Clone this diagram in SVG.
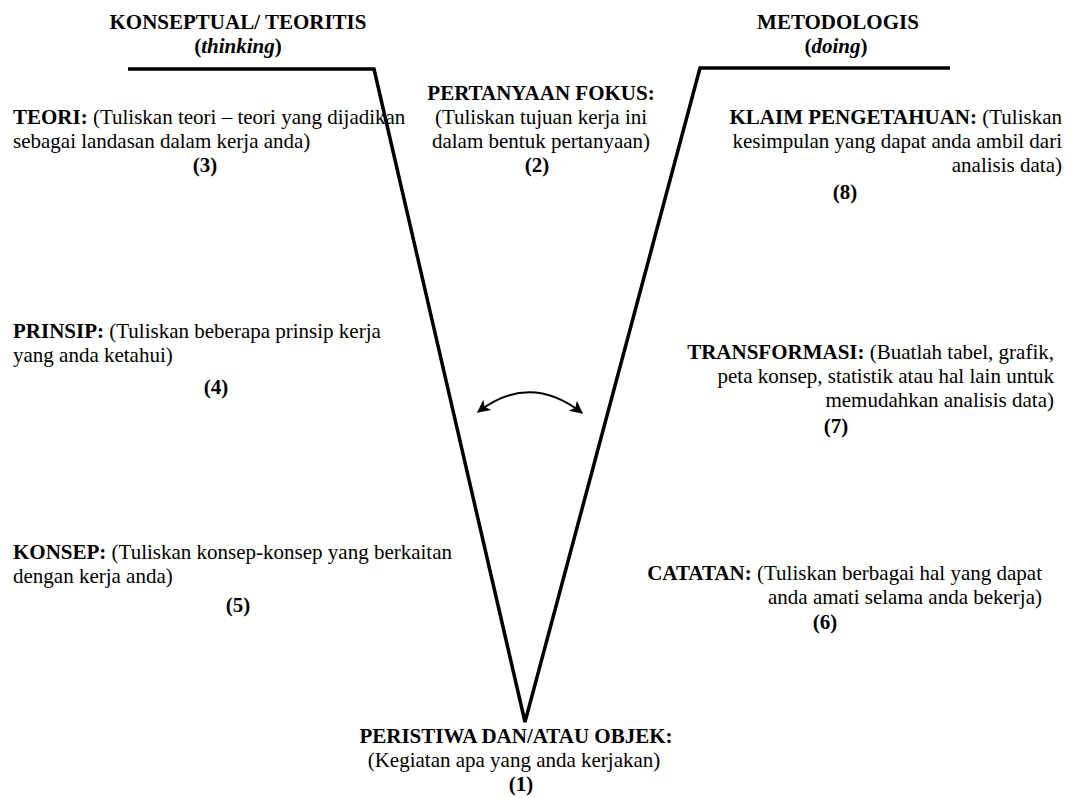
<svg xmlns="http://www.w3.org/2000/svg" width="1075" height="798" viewBox="0 0 1075 798">
<defs>
<style>
text{font-family:"Liberation Serif","Times New Roman",serif;font-size:21px;fill:#000}
.b{font-weight:bold}
.i{font-style:italic}
.v{fill:none;stroke:#000;stroke-width:3.5;stroke-linejoin:miter}
.arc{fill:none;stroke:#000;stroke-width:2}
</style>
<marker id="ah" viewBox="0 0 10 10" refX="9" refY="5" markerWidth="7.5" markerHeight="6.5" orient="auto-start-reverse" markerUnits="strokeWidth">
<path d="M0,0 L10,5 L0,10 L2.5,5 Z" fill="#000"/>
</marker>
</defs>
<rect width="1075" height="798" fill="#fff"/>
<g id="connectors">
<path class="v" d="M128,69 L374,69 L525,722 L700,68 L950,68"/>
<path class="arc" d="M478,412 Q530,372 582,413" marker-start="url(#ah)" marker-end="url(#ah)"/>
</g>
<g id="head-left">
<text x="238" y="29" text-anchor="middle" class="b">KONSEPTUAL/ TEORITIS</text>
<text x="238" y="53" text-anchor="middle" class="b">(<tspan class="i">thinking</tspan>)</text>
</g>
<g id="head-right">
<text x="838" y="29" text-anchor="middle" class="b">METODOLOGIS</text>
<text x="836" y="53" text-anchor="middle" class="b">(<tspan class="i">doing</tspan>)</text>
</g>
<g id="n2">
<text x="541" y="100" text-anchor="middle" class="b">PERTANYAAN FOKUS:</text>
<text x="541" y="124" text-anchor="middle">(Tuliskan tujuan kerja ini</text>
<text x="541" y="148" text-anchor="middle">dalam bentuk pertanyaan)</text>
<text x="537" y="172" text-anchor="middle" class="b">(2)</text>
</g>
<g id="n3">
<text x="13" y="124"><tspan class="b">TEORI:</tspan> (Tuliskan teori – teori yang dijadikan</text>
<text x="13" y="148">sebagai landasan dalam kerja anda)</text>
<text x="205" y="172" text-anchor="middle" class="b">(3)</text>
</g>
<g id="n8">
<text x="1062" y="124" text-anchor="end"><tspan class="b">KLAIM PENGETAHUAN:</tspan> (Tuliskan</text>
<text x="1062" y="148" text-anchor="end">kesimpulan yang dapat anda ambil dari</text>
<text x="1062" y="172" text-anchor="end">analisis data)</text>
<text x="845" y="199" text-anchor="middle" class="b">(8)</text>
</g>
<g id="n4">
<text x="13" y="338"><tspan class="b">PRINSIP:</tspan> (Tuliskan beberapa prinsip kerja</text>
<text x="13" y="362">yang anda ketahui)</text>
<text x="216" y="394" text-anchor="middle" class="b">(4)</text>
</g>
<g id="n7">
<text x="1054" y="359" text-anchor="end"><tspan class="b">TRANSFORMASI:</tspan> (Buatlah tabel, grafik,</text>
<text x="1054" y="383" text-anchor="end">peta konsep, statistik atau hal lain untuk</text>
<text x="1054" y="407" text-anchor="end">memudahkan analisis data)</text>
<text x="836" y="433" text-anchor="middle" class="b">(7)</text>
</g>
<g id="n5">
<text x="13" y="559"><tspan class="b">KONSEP:</tspan> (Tuliskan konsep-konsep yang berkaitan</text>
<text x="13" y="583">dengan kerja anda)</text>
<text x="238" y="612" text-anchor="middle" class="b">(5)</text>
</g>
<g id="n6">
<text x="1042" y="580" text-anchor="end"><tspan class="b">CATATAN:</tspan> (Tuliskan berbagai hal yang dapat</text>
<text x="1042" y="604" text-anchor="end">anda amati selama anda bekerja)</text>
<text x="825" y="629" text-anchor="middle" class="b">(6)</text>
</g>
<g id="n1">
<text x="516" y="743" text-anchor="middle" class="b">PERISTIWA DAN/ATAU OBJEK:</text>
<text x="514" y="767" text-anchor="middle">(Kegiatan apa yang anda kerjakan)</text>
<text x="521" y="791" text-anchor="middle" class="b">(1)</text>
</g>
</svg>
